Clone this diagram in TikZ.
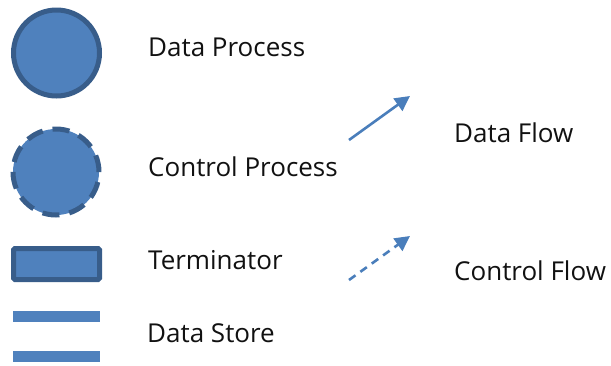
\documentclass[tikz,border=0pt]{standalone}
\usepackage{fontspec}
\setmainfont{Open Sans}
\usetikzlibrary{arrows.meta}
\definecolor{fillblue}{HTML}{4F81BD}
\definecolor{edgeblue}{HTML}{385D8A}
\definecolor{arrowblue}{HTML}{4A7EBB}
\definecolor{txt}{HTML}{111111}
\begin{document}
\begin{tikzpicture}[x=1pt,y=-1pt,
  proc/.style={circle,fill=fillblue,draw=edgeblue,line width=5pt,minimum size=86pt,inner sep=0pt},
  termbox/.style={rectangle,fill=fillblue,draw=edgeblue,line width=5pt,rounded corners=1.5pt,minimum width=86pt,minimum height=31pt,inner sep=0pt},
  storeline/.style={rectangle,fill=fillblue,minimum width=87pt,minimum height=11pt,inner sep=0pt},
  lbl/.style={anchor=west,text=txt,font=\fontsize{26}{30}\selectfont,inner sep=0pt},
  flow/.style={draw=arrowblue,line width=2.6pt,-{Triangle[length=15pt,width=15pt]}}
]
\useasboundingbox (0,0) rectangle (611,365);
\node[proc] (dp) at (56.5,53) {};
\node[proc,dashed,dash pattern=on 17pt off 10pt] (cp) at (56,172) {};
\node[termbox] (term) at (56.5,264) {};
\node[storeline] (ds1) at (56.5,316) {};
\node[storeline] (ds2) at (56.5,356) {};
\node[lbl] (tdp) at (148,47) {Data Process};
\node[lbl] (tcp) at (148,167) {Control Process};
\node[lbl] (tterm) at (148,260) {Terminator};
\node[lbl] (tds) at (147,333) {Data Store};
\node[lbl] (tdf) at (454,133) {Data Flow};
\node[lbl] (tcf) at (454,271) {Control Flow};
\coordinate (dfa) at (349,140);
\coordinate (dfb) at (410,96);
\coordinate (cfa) at (349,280);
\coordinate (cfb) at (410,236);
\draw[flow] (dfa) -- (dfb);
\draw[flow,dash pattern=on 8pt off 6pt] (cfa) -- (cfb);
\end{tikzpicture}
\end{document}
